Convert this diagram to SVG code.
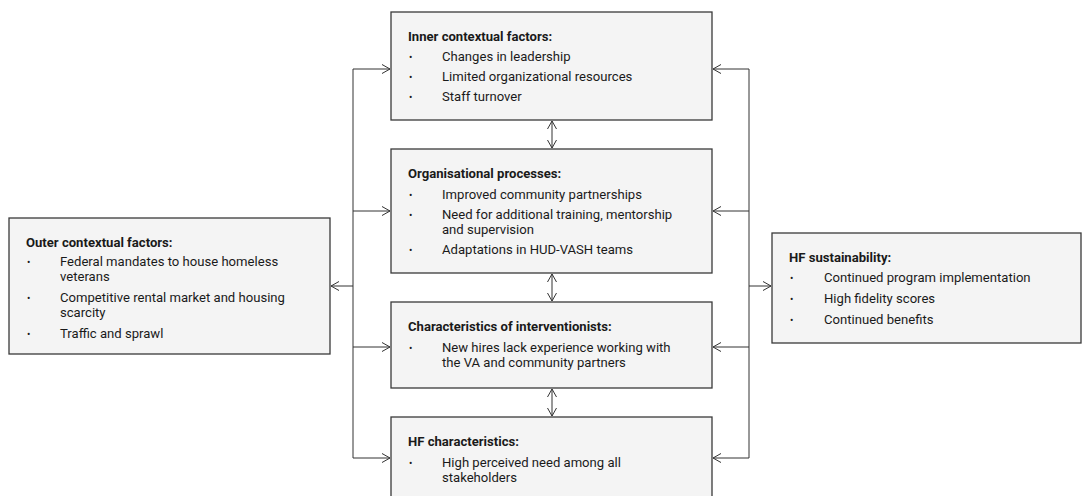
<svg xmlns="http://www.w3.org/2000/svg" width="1083" height="496" viewBox="0 0 1083 496">
<style>
.box{fill:#f4f4f4;stroke:#3a3a3a;stroke-width:1.3}
.t{font-family:Roboto,"Liberation Sans",sans-serif;font-size:13.1px;fill:#1a1a1a}
.h{font-weight:bold}
.b{font-size:10px}
.c{fill:none;stroke:#333;stroke-width:1}
</style>
<defs>
<marker id="ah" viewBox="0 0 10 10" refX="9" refY="5" markerWidth="10" markerHeight="10" markerUnits="userSpaceOnUse" orient="auto-start-reverse">
<path d="M1,0.5 L9,5 L1,9.5" fill="none" stroke="#333" stroke-width="1"/>
</marker>
</defs>
<rect width="1083" height="496" fill="#fff"/>
<g id="connectors">
<path class="c" d="M353,69 V458"/>
<path class="c" d="M749,69 V458"/>
<path class="c" d="M353,69 H390" marker-end="url(#ah)"/>
<path class="c" d="M353,211 H390" marker-end="url(#ah)"/>
<path class="c" d="M353,347 H390" marker-end="url(#ah)"/>
<path class="c" d="M353,458 H390" marker-end="url(#ah)"/>
<path class="c" d="M353,286 H331" marker-end="url(#ah)"/>
<path class="c" d="M749,69 H713" marker-end="url(#ah)"/>
<path class="c" d="M749,211 H713" marker-end="url(#ah)"/>
<path class="c" d="M749,347 H713" marker-end="url(#ah)"/>
<path class="c" d="M749,458 H713" marker-end="url(#ah)"/>
<path class="c" d="M749,286 H771" marker-end="url(#ah)"/>
<path class="c" d="M552,121 V148" marker-start="url(#ah)" marker-end="url(#ah)"/>
<path class="c" d="M552,274 V301" marker-start="url(#ah)" marker-end="url(#ah)"/>
<path class="c" d="M552,389 V416" marker-start="url(#ah)" marker-end="url(#ah)"/>
</g>
<g id="outer">
<rect class="box" x="9" y="218" width="321" height="136"/>
<text class="t h" x="26" y="247">Outer contextual factors:</text>
<text class="t b" x="27" y="266">•</text><text class="t" x="60" y="266">Federal mandates to house homeless</text>
<text class="t" x="60" y="281">veterans</text>
<text class="t b" x="27" y="302">•</text><text class="t" x="60" y="302">Competitive rental market and housing</text>
<text class="t" x="60" y="317">scarcity</text>
<text class="t b" x="27" y="338">•</text><text class="t" x="60" y="338">Traffic and sprawl</text>
</g>
<g id="inner">
<rect class="box" x="391" y="12" width="321" height="108"/>
<text class="t h" x="408" y="41">Inner contextual factors:</text>
<text class="t b" x="409" y="61">•</text><text class="t" x="442" y="61">Changes in leadership</text>
<text class="t b" x="409" y="81">•</text><text class="t" x="442" y="81">Limited organizational resources</text>
<text class="t b" x="409" y="101">•</text><text class="t" x="442" y="101">Staff turnover</text>
</g>
<g id="org">
<rect class="box" x="391" y="149" width="321" height="124"/>
<text class="t h" x="408" y="178">Organisational processes:</text>
<text class="t b" x="409" y="199">•</text><text class="t" x="442" y="199">Improved community partnerships</text>
<text class="t b" x="409" y="219">•</text><text class="t" x="442" y="219">Need for additional training, mentorship</text>
<text class="t" x="442" y="234">and supervision</text>
<text class="t b" x="409" y="254">•</text><text class="t" x="442" y="254">Adaptations in HUD-VASH teams</text>
</g>
<g id="interventionists">
<rect class="box" x="391" y="302" width="321" height="86"/>
<text class="t h" x="408" y="331">Characteristics of interventionists:</text>
<text class="t b" x="409" y="352">•</text><text class="t" x="442" y="352">New hires lack experience working with</text>
<text class="t" x="442" y="367">the VA and community partners</text>
</g>
<g id="hfchar">
<rect class="box" x="391" y="417" width="321" height="92"/>
<text class="t h" x="408" y="446">HF characteristics:</text>
<text class="t b" x="409" y="467">•</text><text class="t" x="442" y="467">High perceived need among all</text>
<text class="t" x="442" y="482">stakeholders</text>
</g>
<g id="sustain">
<rect class="box" x="772" y="233" width="309" height="110"/>
<text class="t h" x="789" y="262">HF sustainability:</text>
<text class="t b" x="790" y="282">•</text><text class="t" x="824" y="282">Continued program implementation</text>
<text class="t b" x="790" y="303">•</text><text class="t" x="824" y="303">High fidelity scores</text>
<text class="t b" x="790" y="324">•</text><text class="t" x="824" y="324">Continued benefits</text>
</g>
</svg>
